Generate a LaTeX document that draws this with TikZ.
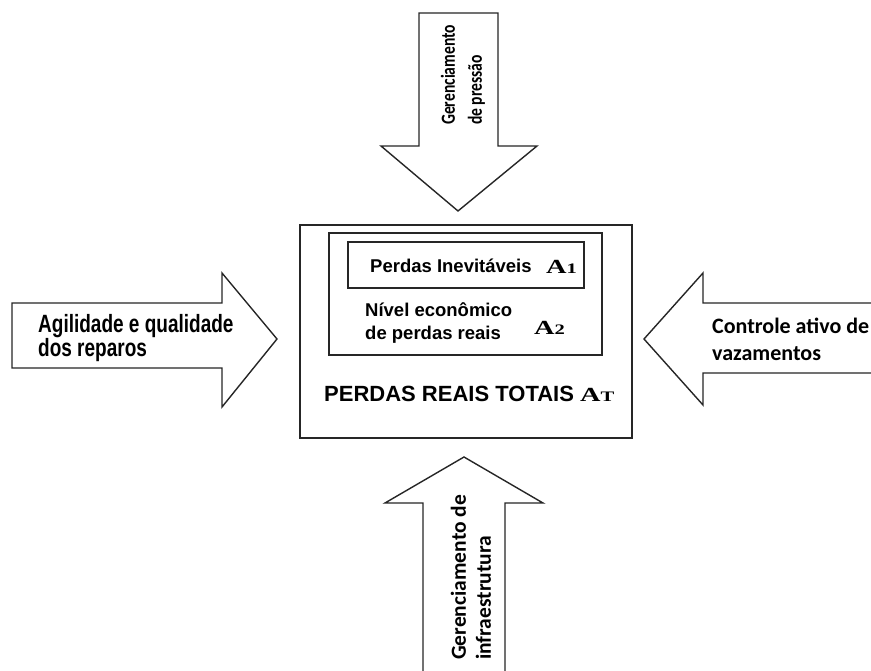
\documentclass[tikz,border=0pt]{standalone}
\usepackage{fontspec}
\usepackage{graphicx}
\setmainfont{Liberation Sans}
\newfontfamily\narrowsans{Liberation Sans}[FakeStretch=0.76]
\newfontfamily\calibrifont{Carlito}
\newfontfamily\narrowcalibri{Carlito}[FakeStretch=0.78]
\newfontfamily\serifcaps{Liberation Serif}
% wide serif capital with a smaller capital or digit beside it
\newcommand\widecap[2]{\scalebox{1.42}[1]{\serifcaps\bfseries\fontsize{20}{20}\selectfont #1\fontsize{14.5}{14.5}\selectfont #2}}
\begin{document}
\begin{tikzpicture}[x=1pt,y=-1pt,
  outline/.style={draw=black!85, line width=1.4pt, fill=white, line join=miter},
  boxline/.style={draw=black!85, line width=1.4pt},
  arialtext/.style={font=\bfseries\fontsize{18.5}{23}\selectfont, align=left, inner sep=0pt},
  calibritext/.style={font=\calibrifont\bfseries\fontsize{22}{27}\selectfont, align=left, inner sep=0pt}]
\clip (0,0) rectangle (871,671);
\useasboundingbox (0,0) rectangle (871,671);

% arrows pushing on the total losses
\draw[outline] (419,13) -- (498,13) -- (498,146) -- (537,146) -- (458,211)
  -- (381,146) -- (419,146) -- cycle;
\draw[outline] (423,680) -- (423,503) -- (385,503) -- (464,457) -- (543,503)
  -- (505,503) -- (505,680);
\draw[outline] (12,303) -- (222,303) -- (222,273) -- (277,339) -- (222,407)
  -- (222,368) -- (12,368) -- cycle;
\draw[outline] (880,303) -- (703,303) -- (703,273) -- (644,339) -- (703,405)
  -- (703,373) -- (880,373);

% nested loss boxes
\draw[boxline] (300,225) rectangle (632,438);
\draw[boxline] (329,233) rectangle (602,355);
\draw[boxline] (348,242) rectangle (584,288);

% box texts
\node[arialtext, anchor=west] (inev) at (370,266) {Perdas Inevitáveis};
\node[inner sep=0pt, anchor=west] (a1) at (546,267) {\widecap{A}{1}};
\node[arialtext, anchor=west] (econ) at (365,323) {Nível econômico\\de perdas reais};
\node[inner sep=0pt, anchor=west] (a2) at (534,328) {\widecap{A}{2}};
\node[inner sep=0pt, anchor=base west, font=\bfseries\fontsize{22}{22}\selectfont] (total) at (324,401)
  {PERDAS REAIS TOTAIS \widecap{A}{T}};

% arrow texts
\node[arialtext, font=\narrowsans\bfseries\fontsize{25}{23}\selectfont, anchor=west] (agil) at (38,338)
  {Agilidade e qualidade\\dos reparos};
\node[calibritext, anchor=west] (vaz) at (712,339) {Controle ativo de\\vazamentos};
\node[calibritext, font=\narrowcalibri\bfseries\fontsize{20}{27}\selectfont, rotate=90, anchor=west]
  (press) at (463,125) {Gerenciamento\\de pressão};
\node[calibritext, font=\calibrifont\bfseries\fontsize{21.5}{25}\selectfont, rotate=90, anchor=west]
  (infra) at (471,660) {Gerenciamento de\\infraestrutura};
\end{tikzpicture}
\end{document}
